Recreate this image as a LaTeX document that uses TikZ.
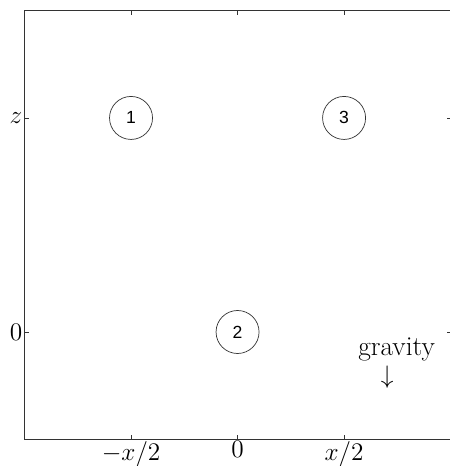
\documentclass[tikz,border=0pt]{standalone}
\usepackage{fontspec}
\newfontfamily\ballfont{Liberation Sans}
\usepackage{tikz}
\usetikzlibrary{positioning}

\newcommand{\bigtext}{\fontsize{15.6}{18}\selectfont}

\tikzset{
    ball/.style={circle, draw, black!80, text=black, inner sep=0pt,
        minimum size=0.86cm, font=\ballfont\normalsize},
    ticklabel/.style={font=\bigtext, inner sep=1pt},
    frame/.style={draw=black!80, line width=0.5pt},
}

\begin{document}
\begin{tikzpicture}[x=2.13cm, y=4.28cm]
    \useasboundingbox (-2.23,-0.626) rectangle (1.99,1.551);
    % Rahmen
    \draw[frame] (-2,-0.5) rectangle (2,1.5);
    % Striche
    \foreach \t in {-1,0,1} {
        \draw[frame] (\t,1.5) -- ++(0,-0.019);
        \draw[frame] (\t,-0.5) -- ++(0,0.019);
    }
    \foreach \t in {0,1} {
        \draw[frame] (-2,\t) -- ++(0.038,0);
        \draw[frame] (2,\t) -- ++(-0.038,0);
    }
    % Beschriftung der Achsen
    \node[ticklabel, left] (zlab) at (-2,1) {$z$};
    \node[ticklabel, left] (nulllab) at (-2,0) {$0$};
    \node[ticklabel, below] (xlinks) at (-1,-0.5) {$-x/2$};
    \node[ticklabel, below] (xmitte) at (0,-0.5) {$0$};
    \node[ticklabel, below] (xrechts) at (1,-0.5) {$x/2$};
    % Kugeln
    \node[ball] (k1) at (-1,1) {1};
    \node[ball] (k2) at (0,0) {2};
    \node[ball] (k3) at (1,1) {3};
    % Schwerkraft
    \node[font=\bigtext, anchor=base, inner sep=0pt] (grav) at (1.493,-0.112) {gravity};
    \node[font=\bigtext, inner sep=0pt] (gpfeil) at (1.404,-0.21) {$\downarrow$};
\end{tikzpicture}
\end{document}
